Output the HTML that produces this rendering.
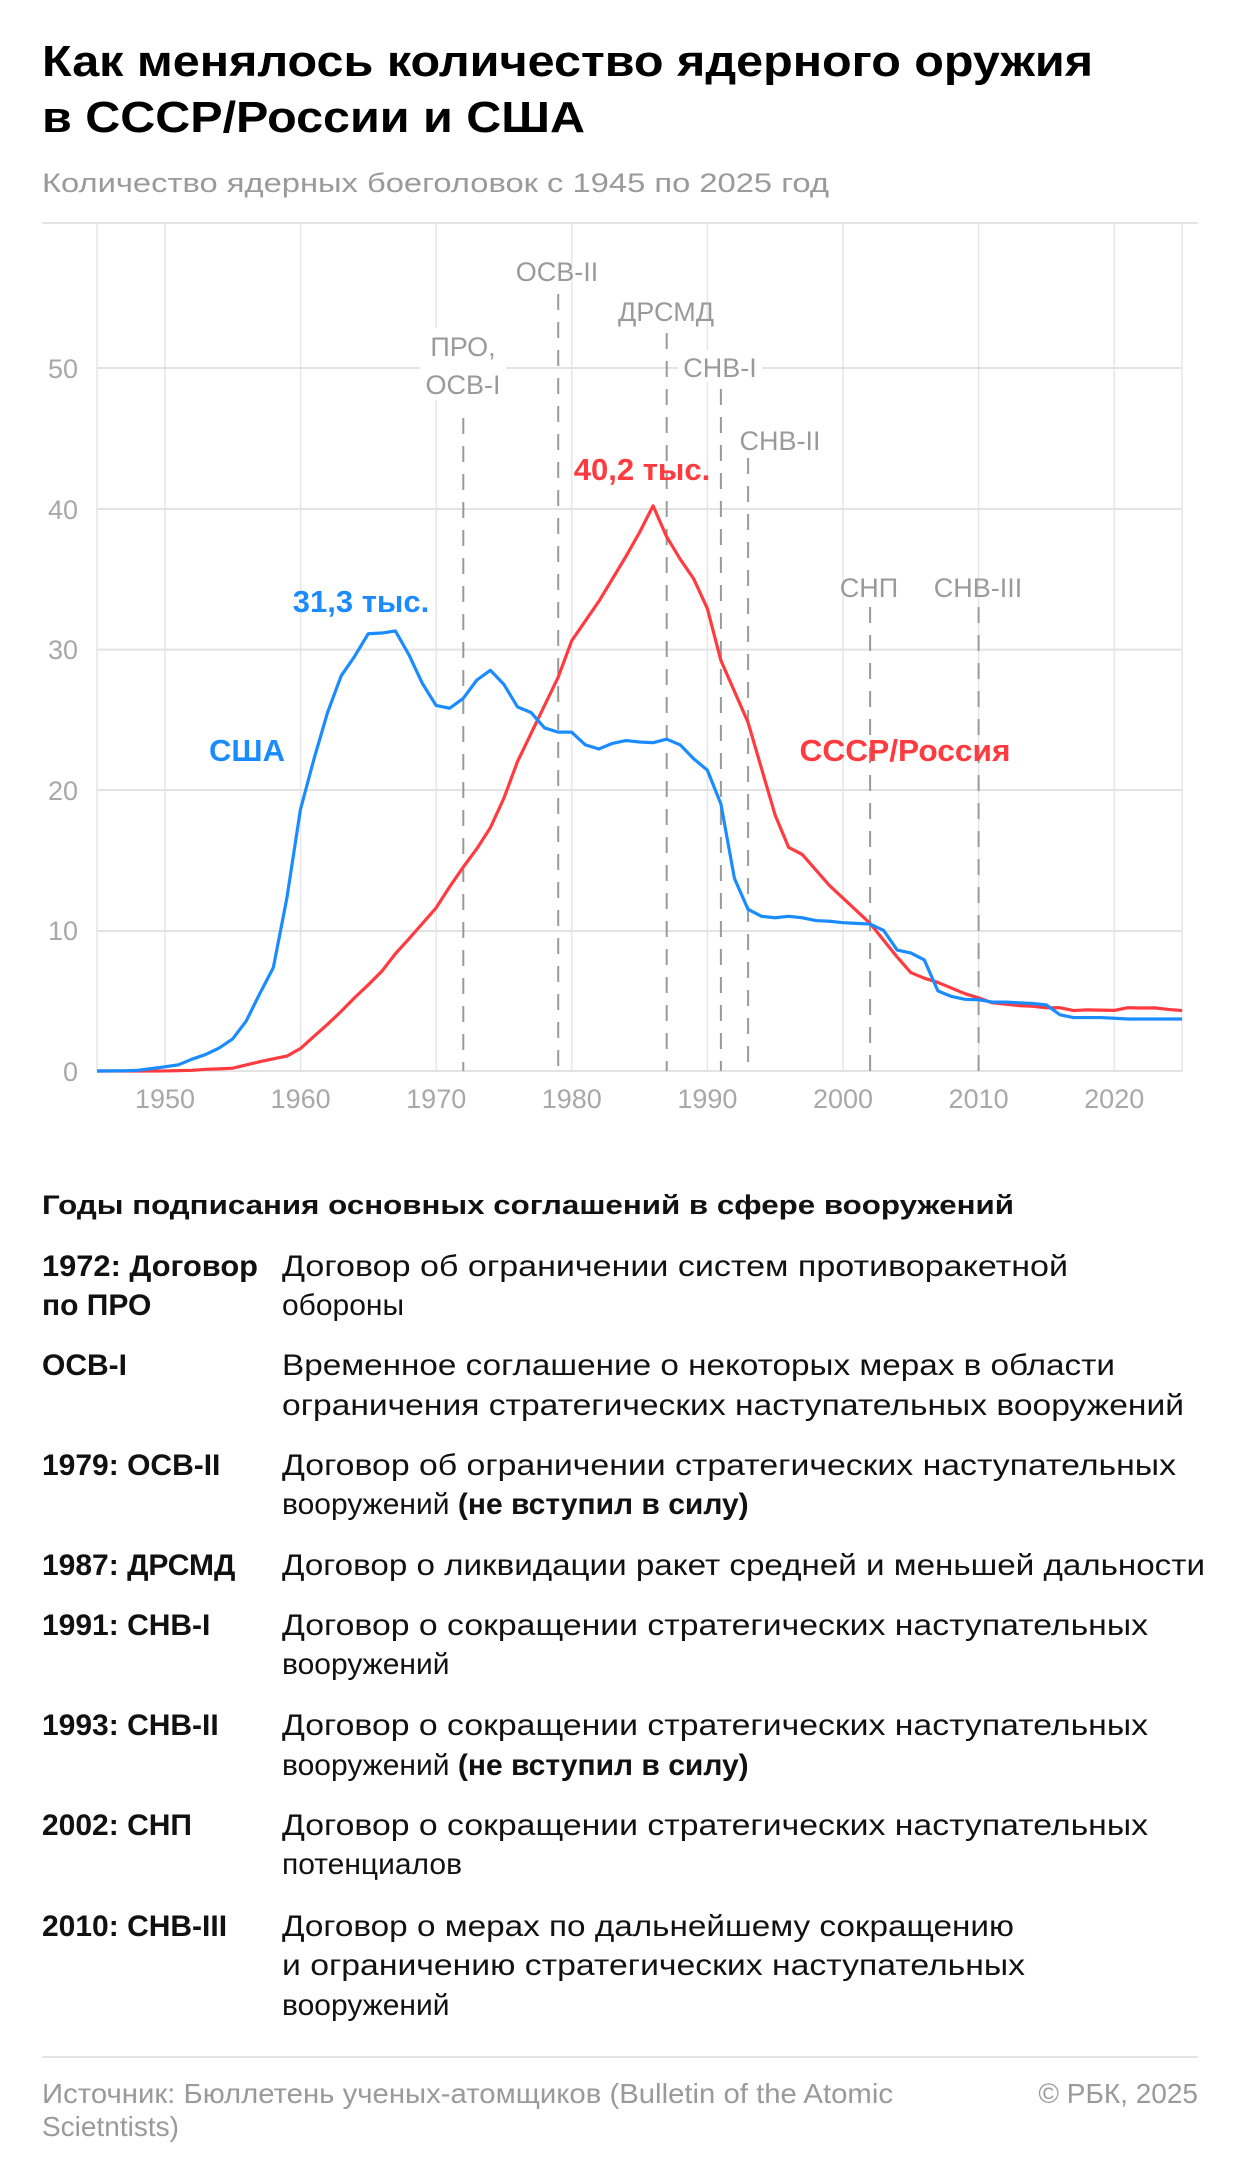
<!DOCTYPE html>
<html><head><meta charset="utf-8"><style>html,body{margin:0;padding:0;background:#fff}svg{display:block}</style></head>
<body>
<svg xmlns="http://www.w3.org/2000/svg" width="1240" height="2178" viewBox="0 0 1240 2178" font-family="'Liberation Sans', sans-serif">
<rect width="1240" height="2178" fill="#fff"/>
<text x="42" y="76" font-size="44" font-weight="bold" fill="#000" textLength="1051" lengthAdjust="spacingAndGlyphs">Как менялось количество ядерного оружия</text>
<text x="42" y="132" font-size="44" font-weight="bold" fill="#000" textLength="543" lengthAdjust="spacingAndGlyphs">в СССР/России и США</text>
<text x="42" y="192" font-size="27" fill="#9a9a9a" textLength="787" lengthAdjust="spacingAndGlyphs">Количество ядерных боеголовок с 1945 по 2025 год</text>
<line x1="42" y1="223" x2="1198" y2="223" stroke="#e3e3e3" stroke-width="2"/>
<g stroke="#e6e6e6" stroke-width="1.5">
<line x1="97" y1="224" x2="97" y2="1071"/><line x1="165" y1="224" x2="165" y2="1071"/><line x1="300.6" y1="224" x2="300.6" y2="1071"/><line x1="436.2" y1="224" x2="436.2" y2="1071"/><line x1="571.8" y1="224" x2="571.8" y2="1071"/><line x1="707.4" y1="224" x2="707.4" y2="1071"/><line x1="843" y1="224" x2="843" y2="1071"/><line x1="978.6" y1="224" x2="978.6" y2="1071"/><line x1="1114.2" y1="224" x2="1114.2" y2="1071"/><line x1="1182" y1="224" x2="1182" y2="1071"/>
</g>
<g stroke="#e3e3e3" stroke-width="2">
<line x1="97" y1="368" x2="1182" y2="368"/><line x1="97" y1="509" x2="1182" y2="509"/><line x1="97" y1="649.6" x2="1182" y2="649.6"/><line x1="97" y1="790" x2="1182" y2="790"/><line x1="97" y1="931" x2="1182" y2="931"/><line x1="97" y1="1071" x2="1182" y2="1071"/>
</g>
<g font-size="27" fill="#a8a8a8" text-anchor="end">
<text x="78" y="378">50</text><text x="78" y="519">40</text><text x="78" y="659">30</text><text x="78" y="800">20</text><text x="78" y="940">10</text><text x="78" y="1081">0</text>
</g>
<g font-size="27" fill="#a8a8a8" text-anchor="middle">
<text x="165" y="1108">1950</text><text x="300.6" y="1108">1960</text><text x="436.2" y="1108">1970</text><text x="571.8" y="1108">1980</text><text x="707.4" y="1108">1990</text><text x="843" y="1108">2000</text><text x="978.6" y="1108">2010</text><text x="1114.2" y="1108">2020</text>
</g>
<g stroke="#9a9a9a" stroke-width="2" stroke-dasharray="16,12">
<line x1="463.3" y1="418" x2="463.3" y2="1071"/>
<line x1="558.2" y1="294" x2="558.2" y2="1071"/>
<line x1="666.7" y1="333" x2="666.7" y2="1071"/>
<line x1="720.9" y1="389" x2="720.9" y2="1071"/>
<line x1="748.1" y1="458" x2="748.1" y2="1071"/>
<line x1="870.1" y1="607" x2="870.1" y2="1071"/>
<line x1="978.6" y1="607" x2="978.6" y2="1071"/>
</g>
<g font-size="27" fill="#9a9a9a" text-anchor="middle">
<rect x="420" y="328" width="86" height="72" fill="#fff"/>
<text x="463" y="356">ПРО,</text><text x="463" y="394">ОСВ-I</text>
<text x="557" y="281">ОСВ-II</text>
<text x="666" y="321">ДРСМД</text>
<rect x="678" y="350" width="84" height="32" fill="#fff"/>
<text x="720" y="377">СНВ-I</text>
<text x="780" y="450">СНВ-II</text>
<text x="869" y="597">СНП</text>
<text x="978" y="597">СНВ-III</text>
</g>
<g transform="translate(97,1071) scale(13.5625,-14.06)" fill="none" stroke-linejoin="round" stroke-width="3.2">
<polyline vector-effect="non-scaling-stroke" stroke="#ff3b40" points="0,0 4,0 5,0.005 6,0.025 7,0.05 8,0.12 9,0.15 10,0.2 11,0.43 12,0.66 13,0.87 14,1.06 15,1.6 16,2.47 17,3.32 18,4.24 19,5.22 20,6.13 21,7.09 22,8.34 23,9.4 24,10.5 25,11.6 26,13.1 27,14.5 28,15.8 29,17.3 30,19.4 31,22.0 32,24.0 33,26.0 34,28.0 35,30.6 36,32.0 37,33.4 38,35.0 39,36.6 40,38.3 41,40.2 42,38.0 43,36.4 44,35.0 45,32.9 46,29.2 47,27.0 48,24.8 49,21.5 50,18.2 51,15.9 52,15.4 53,14.3 54,13.2 55,12.3 56,11.4 57,10.5 58,9.3 59,8.1 60,7.0 61,6.6 62,6.3 63,5.9 64,5.5 65,5.2 66,4.85 67,4.75 68,4.65 69,4.6 70,4.5 71,4.5 72,4.3 73,4.35 74,4.33 75,4.31 76,4.5 77,4.48 78,4.49 79,4.38 80,4.3"/>
<polyline vector-effect="non-scaling-stroke" stroke="#1a8cff" points="0,0.002 1,0.009 2,0.013 3,0.05 4,0.17 5,0.3 6,0.44 7,0.84 8,1.17 9,1.63 10,2.28 11,3.55 12,5.5 13,7.35 14,12.3 15,18.6 16,22.2 17,25.5 18,28.1 19,29.5 20,31.1 21,31.15 22,31.3 23,29.6 24,27.55 25,26.0 26,25.8 27,26.5 28,27.8 29,28.5 30,27.5 31,25.9 32,25.5 33,24.4 34,24.1 35,24.1 36,23.2 37,22.9 38,23.3 39,23.5 40,23.4 41,23.35 42,23.6 43,23.2 44,22.2 45,21.4 46,19.0 47,13.7 48,11.5 49,11.0 50,10.9 51,11.0 52,10.9 53,10.7 54,10.65 55,10.55 56,10.5 57,10.45 58,10.0 59,8.6 60,8.4 61,7.9 62,5.7 63,5.3 64,5.1 65,5.07 66,4.9 67,4.9 68,4.85 69,4.8 70,4.7 71,4.0 72,3.8 73,3.8 74,3.8 75,3.75 76,3.7 77,3.7 78,3.7 79,3.7 80,3.7"/>
</g>
<g font-size="31" font-weight="bold" text-anchor="middle">
<text x="361" y="612" fill="#1a8cff">31,3 тыс.</text>
<text x="642" y="480" fill="#ff3b40">40,2 тыс.</text>
<text x="247" y="761" fill="#1a8cff">США</text>
<text x="905" y="761" fill="#ff3b40" textLength="211" lengthAdjust="spacingAndGlyphs">СССР/Россия</text>
</g>
<text x="42" y="1214" font-size="27" font-weight="bold" fill="#111" textLength="972" lengthAdjust="spacingAndGlyphs">Годы подписания основных соглашений в сфере вооружений</text>
<g font-size="30" fill="#111">
<g font-weight="bold">
<text x="42" y="1276" textLength="216" lengthAdjust="spacingAndGlyphs">1972: Договор</text>
<text x="42" y="1315">по ПРО</text>
<text x="42" y="1375">ОСВ-I</text>
<text x="42" y="1475">1979: ОСВ-II</text>
<text x="42" y="1575">1987: ДРСМД</text>
<text x="42" y="1635">1991: СНВ-I</text>
<text x="42" y="1735">1993: СНВ-II</text>
<text x="42" y="1835">2002: СНП</text>
<text x="42" y="1936">2010: СНВ-III</text>
</g>
<text x="282" y="1276" textLength="786" lengthAdjust="spacingAndGlyphs">Договор об ограничении систем противоракетной</text>
<text x="282" y="1315">обороны</text>
<text x="282" y="1375" textLength="833" lengthAdjust="spacingAndGlyphs">Временное соглашение о некоторых мерах в области</text>
<text x="282" y="1415" textLength="902" lengthAdjust="spacingAndGlyphs">ограничения стратегических наступательных вооружений</text>
<text x="282" y="1475" textLength="894" lengthAdjust="spacingAndGlyphs">Договор об ограничении стратегических наступательных</text>
<text x="282" y="1514">вооружений <tspan font-weight="bold">(не вступил в силу)</tspan></text>
<text x="282" y="1575" textLength="923" lengthAdjust="spacingAndGlyphs">Договор о ликвидации ракет средней и меньшей дальности</text>
<text x="282" y="1635" textLength="866" lengthAdjust="spacingAndGlyphs">Договор о сокращении стратегических наступательных</text>
<text x="282" y="1674">вооружений</text>
<text x="282" y="1735" textLength="866" lengthAdjust="spacingAndGlyphs">Договор о сокращении стратегических наступательных</text>
<text x="282" y="1775">вооружений <tspan font-weight="bold">(не вступил в силу)</tspan></text>
<text x="282" y="1835" textLength="866" lengthAdjust="spacingAndGlyphs">Договор о сокращении стратегических наступательных</text>
<text x="282" y="1874">потенциалов</text>
<text x="282" y="1936" textLength="732" lengthAdjust="spacingAndGlyphs">Договор о мерах по дальнейшему сокращению</text>
<text x="282" y="1975" textLength="743" lengthAdjust="spacingAndGlyphs">и ограничению стратегических наступательных</text>
<text x="282" y="2015">вооружений</text>
</g>
<line x1="42" y1="2057" x2="1198" y2="2057" stroke="#e3e3e3" stroke-width="2"/>
<g font-size="28" fill="#9a9a9a">
<text x="42" y="2103" textLength="851" lengthAdjust="spacingAndGlyphs">Источник: Бюллетень ученых-атомщиков (Bulletin of the Atomic</text>
<text x="42" y="2136">Scietntists)</text>
<text x="1198" y="2103" text-anchor="end">© РБК, 2025</text>
</g>
</svg>
</body></html>
